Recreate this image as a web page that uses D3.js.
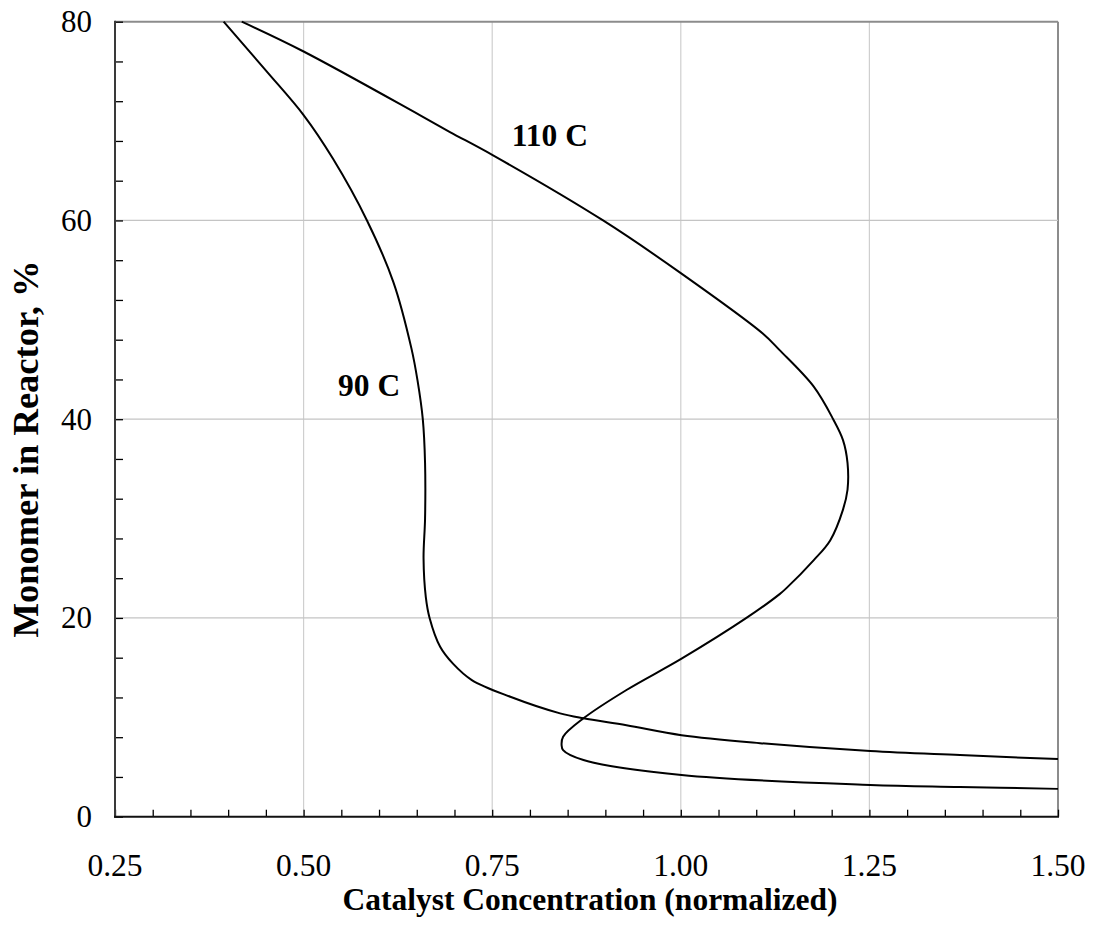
<!DOCTYPE html>
<html>
<head>
<meta charset="utf-8">
<script src="https://cdn.jsdelivr.net/npm/d3@7.9.0/dist/d3.min.js"></script>
<style>
  body { margin: 0; background: #fff; }
  svg { display: block; font-family: "Liberation Serif", "Times New Roman", serif; }
</style>
</head>
<body>
<svg id="chart" width="1093" height="942"></svg>
<script>
// catalyst concentration (normalized) vs monomer in reactor (%)
const cat90 = [0.394, 0.451, 0.500, 0.539, 0.584, 0.619, 0.643, 0.651, 0.658, 0.661, 0.661, 0.659, 0.662, 0.667, 0.681, 0.698, 0.723, 0.774, 0.840, 0.871, 0.928, 1.001, 1.105, 1.251, 1.370, 1.500];
const mon90 = [80.0, 75.0, 70.6, 66.2, 60.0, 53.8, 47.1, 43.9, 40.0, 35.6, 30.0, 26.0, 22.1, 20.0, 17.1, 15.4, 13.75, 12.07, 10.4, 9.9, 9.2, 8.2, 7.4, 6.6, 6.2, 5.8];

const cat110 = [0.418, 0.500, 0.654, 0.694, 0.750, 0.897, 1.000, 1.109, 1.131, 1.176, 1.202, 1.215, 1.221, 1.221, 1.215, 1.198, 1.176, 1.140, 1.131, 1.087, 1.001, 0.928, 0.871, 0.844, 0.842, 0.844, 0.871, 1.001, 1.251, 1.370, 1.500];
const mon110 = [80.0, 77.0, 70.6, 68.9, 66.6, 60.0, 54.7, 48.6, 46.95, 43.3, 40.0, 37.9, 35.6, 32.9, 30.9, 27.8, 25.8, 23.0, 22.4, 20.0, 15.9, 12.75, 9.9, 8.05, 7.2, 6.7, 5.7, 4.2, 3.2, 3.0, 2.8];

const xTicks = [0.25, 0.50, 0.75, 1.00, 1.25, 1.50];
const yTicks = [0, 20, 40, 60, 80];

const curveLabels = ['90 C', '110 C'];
const labelCat = [0.5456, 0.776];
const labelMon = [42.3, 67.5];

const svg = d3.select('#chart');
const plotLeft = 115, plotRight = 1058, plotTop = 21.7, plotBottom = 816.7;

const x = d3.scaleLinear().domain([0.25, 1.5]).range([plotLeft, plotRight]);
const y = d3.scaleLinear().domain([0, 80]).range([plotBottom, plotTop]);

// gridlines
const grid = svg.append('g');
grid.selectAll('.gx')
  .data(xTicks.slice(1))
  .join('line')
  .attr('x1', (d) => x(d)).attr('x2', (d) => x(d))
  .attr('y1', plotTop).attr('y2', plotBottom)
  .attr('stroke', (d) => (d === 1.5 ? '#8c8c8c' : '#cfcfcf'))
  .attr('stroke-width', (d) => (d === 1.5 ? 2 : 1.2));
grid.selectAll('.gy')
  .data(yTicks.slice(1))
  .join('line')
  .attr('x1', plotLeft).attr('x2', plotRight)
  .attr('y1', (d) => y(d)).attr('y2', (d) => y(d))
  .attr('stroke', (d) => (d === 80 ? '#8c8c8c' : '#c4c4c4'))
  .attr('stroke-width', (d) => (d === 80 ? 2 : 1.2));

// axes with inward ticks
const xAxis = d3.axisTop(x)
  .tickValues(d3.range(0.25, 1.5001, 0.05))
  .tickSize(7)
  .tickFormat('');
svg.append('g')
  .attr('transform', `translate(0,${plotBottom})`)
  .call(xAxis)
  .call((g) => g.select('.domain').remove())
  .selectAll('line').attr('stroke', '#000').attr('stroke-width', 1.3);

const yAxis = d3.axisRight(y)
  .tickValues(d3.range(0, 80.001, 4))
  .tickSize(8)
  .tickFormat('');
svg.append('g')
  .attr('transform', `translate(${plotLeft},0)`)
  .call(yAxis)
  .call((g) => g.select('.domain').remove())
  .selectAll('line').attr('stroke', '#000').attr('stroke-width', 1.3);

svg.append('line')
  .attr('x1', plotLeft).attr('x2', plotLeft).attr('y1', plotTop - 1).attr('y2', plotBottom + 1)
  .attr('stroke', '#3a3a3a').attr('stroke-width', 2);
svg.append('line')
  .attr('x1', plotLeft - 1).attr('x2', plotRight + 1).attr('y1', plotBottom).attr('y2', plotBottom)
  .attr('stroke', '#111').attr('stroke-width', 2);

// tick labels
svg.append('g').selectAll('text')
  .data(xTicks)
  .join('text')
  .attr('x', (d) => x(d))
  .attr('y', 876)
  .attr('text-anchor', 'middle')
  .attr('font-size', 31.5)
  .text(d3.format('.2f'));

svg.append('g').selectAll('text')
  .data(yTicks)
  .join('text')
  .attr('x', 92)
  .attr('y', (d) => y(d) + 10.5)
  .attr('text-anchor', 'end')
  .attr('font-size', 31)
  .text((d) => d);

// axis titles
svg.append('text')
  .attr('x', 590)
  .attr('y', 910)
  .attr('text-anchor', 'middle')
  .attr('font-size', 31.5)
  .attr('font-weight', 'bold')
  .text('Catalyst Concentration (normalized)');

svg.append('text')
  .attr('transform', 'translate(38,449) rotate(-90)')
  .attr('text-anchor', 'middle')
  .attr('font-size', 36.5)
  .attr('font-weight', 'bold')
  .text('Monomer in Reactor, %');

// curves
const line = d3.line()
  .x((d) => x(d[0]))
  .y((d) => y(d[1]))
  .curve(d3.curveCatmullRom.alpha(0.5));

const series = [d3.zip(cat90, mon90), d3.zip(cat110, mon110)];
svg.append('g').selectAll('path')
  .data(series)
  .join('path')
  .attr('d', line)
  .attr('fill', 'none')
  .attr('stroke', '#000')
  .attr('stroke-width', 2);

svg.append('g').selectAll('text')
  .data(curveLabels)
  .join('text')
  .attr('x', (d, i) => x(labelCat[i]))
  .attr('y', (d, i) => y(labelMon[i]))
  .attr('font-size', 31.5)
  .attr('font-weight', 'bold')
  .text((d) => d);
</script>
</body>
</html>
